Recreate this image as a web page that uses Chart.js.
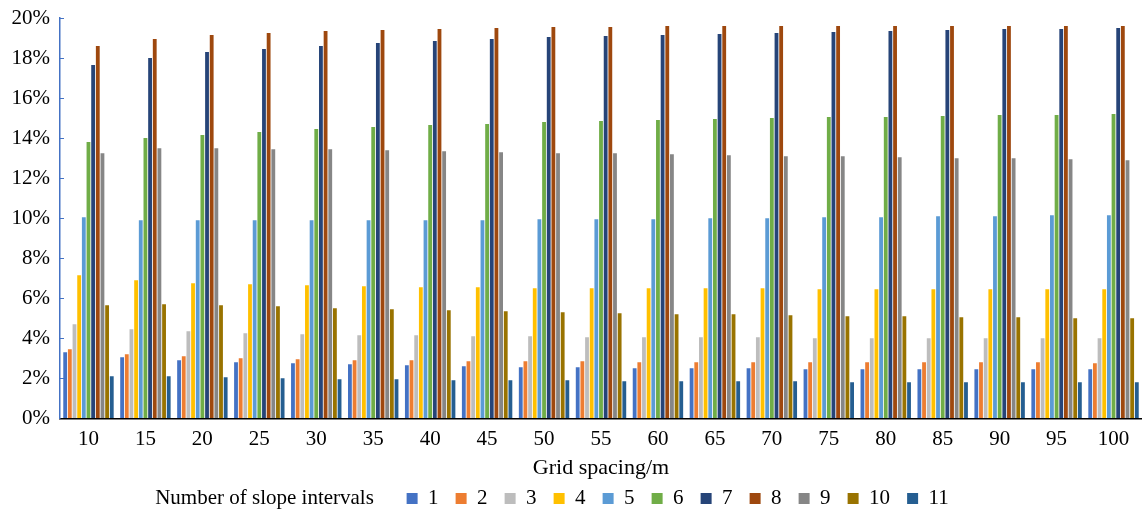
<!DOCTYPE html>
<html>
<head>
<meta charset="utf-8">
<script src="https://cdn.jsdelivr.net/npm/chart.js@4.4.1/dist/chart.umd.min.js"></script>
<style>
  html, body { margin: 0; padding: 0; background: #fff; overflow: hidden; }
  #wrap { width: 1142px; height: 519px; }
</style>
</head>
<body>
<div id="wrap"><canvas id="mycanvas"></canvas></div>
<script>
// grid spacing (m)
var spacing = ['10','15','20','25','30','35','40','45','50','55','60','65','70','75','80','85','90','95','100'];

// share of each slope interval, %
var s1  = [3.3, 3.05, 2.9, 2.8, 2.75, 2.7, 2.65, 2.6, 2.55, 2.55, 2.5, 2.5, 2.5, 2.45, 2.45, 2.45, 2.45, 2.45, 2.45];
var s2  = [3.45, 3.2, 3.1, 3.0, 2.95, 2.9, 2.9, 2.85, 2.85, 2.85, 2.8, 2.8, 2.8, 2.8, 2.8, 2.8, 2.8, 2.8, 2.75];
var s3  = [4.7, 4.45, 4.35, 4.25, 4.2, 4.15, 4.15, 4.1, 4.1, 4.05, 4.05, 4.05, 4.05, 4.0, 4.0, 4.0, 4.0, 4.0, 4.0];
var s4  = [7.15, 6.9, 6.75, 6.7, 6.65, 6.6, 6.55, 6.55, 6.5, 6.5, 6.5, 6.5, 6.5, 6.45, 6.45, 6.45, 6.45, 6.45, 6.45];
var s5  = [10.05, 9.9, 9.9, 9.9, 9.9, 9.9, 9.9, 9.9, 9.95, 9.95, 9.95, 10.0, 10.0, 10.05, 10.05, 10.1, 10.1, 10.15, 10.15];
var s6  = [13.8, 14.0, 14.15, 14.3, 14.45, 14.55, 14.65, 14.7, 14.8, 14.85, 14.9, 14.95, 15.0, 15.05, 15.05, 15.1, 15.15, 15.15, 15.2];
var s7  = [17.65, 18.0, 18.3, 18.45, 18.6, 18.75, 18.85, 18.95, 19.05, 19.1, 19.15, 19.2, 19.25, 19.3, 19.35, 19.4, 19.45, 19.45, 19.5];
var s8  = [18.6, 18.95, 19.15, 19.25, 19.35, 19.4, 19.45, 19.5, 19.55, 19.55, 19.6, 19.6, 19.6, 19.6, 19.6, 19.6, 19.6, 19.6, 19.6];
var s9  = [13.25, 13.5, 13.5, 13.45, 13.45, 13.4, 13.35, 13.3, 13.25, 13.25, 13.2, 13.15, 13.1, 13.1, 13.05, 13.0, 13.0, 12.95, 12.9];
var s10 = [5.65, 5.7, 5.65, 5.6, 5.5, 5.45, 5.4, 5.35, 5.3, 5.25, 5.2, 5.2, 5.15, 5.1, 5.1, 5.05, 5.05, 5.0, 5.0];
var s11 = [2.1, 2.1, 2.05, 2.0, 1.95, 1.95, 1.9, 1.9, 1.9, 1.85, 1.85, 1.85, 1.85, 1.8, 1.8, 1.8, 1.8, 1.8, 1.8];

var seriesNames = ['1','2','3','4','5','6','7','8','9','10','11'];
var seriesData = [s1, s2, s3, s4, s5, s6, s7, s8, s9, s10, s11];
var colours = ['#4472C4','#ED7D31','#BDBDBD','#FFC000','#5B9BD5','#70AD47','#264478','#9E480E','#868686','#997300','#255E91'];

var yTicks = [0, 2, 4, 6, 8, 10, 12, 14, 16, 18, 20];
var legendTitle = 'Number of slope intervals';

var serif = "'Liberation Serif', 'Times New Roman', serif";

var datasets = [];
for (var i in seriesData) {
    datasets.push({
        label: seriesNames[i],
        data: seriesData[i],
        backgroundColor: colours[i],
        borderWidth: 0,
        barPercentage: 0.82,
        categoryPercentage: 0.9
    });
}

var chartdata = {
    labels: spacing,
    datasets: datasets
};

// blank legend entry (no box) used for the title text and for centring
function blankItem(txt) {
    return {
        text: txt,
        fillStyle: 'rgba(0,0,0,0)',
        strokeStyle: 'rgba(0,0,0,0)',
        lineWidth: 0,
        hidden: false,
        datasetIndex: -1
    };
}

var ctx = document.getElementById('mycanvas');
var BarGraph = new Chart(ctx, {
    type: 'bar',
    data: chartdata,
    options: {
        responsive: true,
        maintainAspectRatio: false,
        animation: false,
        devicePixelRatio: 1,
        layout: { padding: { top: 18, left: 0, right: 0, bottom: 0 } },
        plugins: {
            tooltip: { enabled: false },
            legend: {
                position: 'bottom',
                labels: {
                    font: { family: serif, size: 21 },
                    color: '#000',
                    boxWidth: 11,
                    boxHeight: 11,
                    padding: 17,
                    generateLabels: function(chart) {
                        var items = Chart.defaults.plugins.legend.labels.generateLabels(chart);
                        items.forEach(function(it) { it.lineWidth = 0; });
                        items.unshift(blankItem(legendTitle + '   '));
                        items.push(blankItem('    '));
                        return items;
                    }
                }
            }
        },
        scales: {
            x: {
                grid: { display: false, drawTicks: false },
                border: { display: true, color: '#000', width: 1.5 },
                ticks: {
                    font: { family: serif, size: 21 },
                    color: '#000',
                    padding: 8,
                    maxRotation: 0,
                    autoSkip: false
                },
                title: {
                    display: true,
                    text: 'Grid spacing/m',
                    font: { family: serif, size: 22 },
                    color: '#000',
                    padding: { top: -5, bottom: -10 }
                }
            },
            y: {
                min: 0,
                max: 20,
                afterFit: function(scale) {
                    scale.width = 60;
                    scale.paddingTop = 0;
                    scale.paddingBottom = 0;
                },
                afterBuildTicks: function(scale) {
                    scale.ticks = yTicks.map(function(v) { return { value: v }; });
                },
                grid: {
                    display: true,
                    drawOnChartArea: false,
                    drawTicks: true,
                    tickLength: -4,
                    color: '#4472C4'
                },
                border: { display: true, color: '#4472C4', width: 1.5 },
                ticks: {
                    font: { family: serif, size: 21 },
                    color: '#000',
                    padding: 14,
                    callback: function(v) { return v + '%'; }
                }
            }
        }
    }
});
</script>
</body>
</html>
